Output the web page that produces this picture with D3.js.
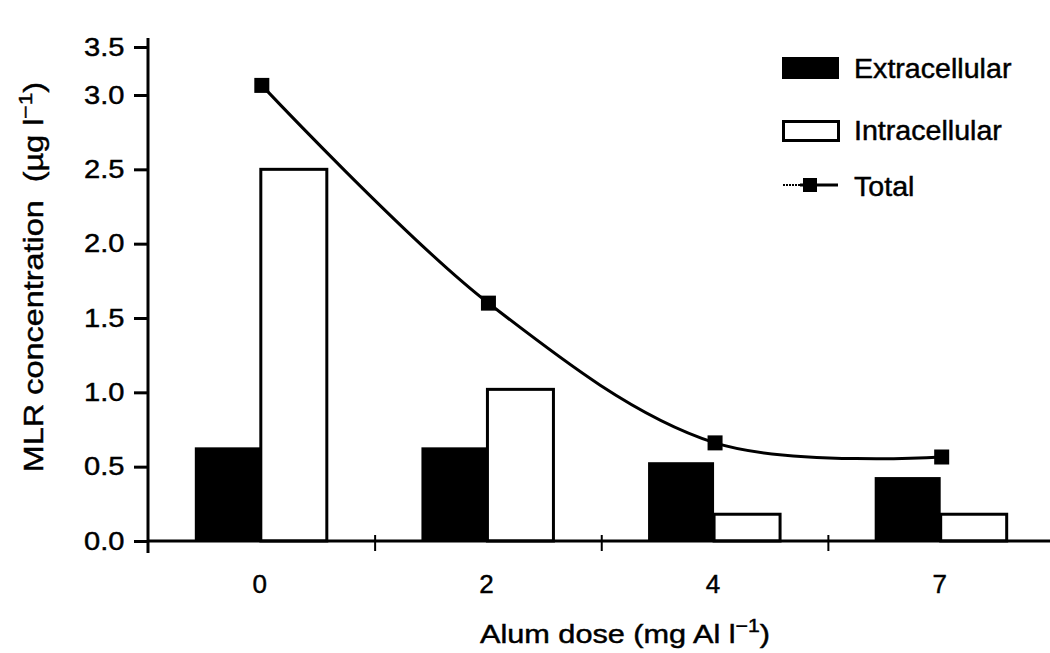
<!DOCTYPE html>
<html>
<head>
<meta charset="utf-8">
<script src="https://cdn.jsdelivr.net/npm/d3@7"></script>
<style>
  html, body { margin: 0; padding: 0; background: #fff; }
  svg { display: block; }
  text { font-family: "Liberation Sans", Arial, Helvetica, sans-serif; fill: #000; stroke: #000; stroke-width: 0.45px; }
</style>
</head>
<body>
<svg id="chart" width="1050" height="653"></svg>
<script>
// ---- data ----
const categories = ["0", "2", "4", "7"];
const extracellular = [0.63, 0.63, 0.53, 0.43];
const intracellular = [2.5, 1.02, 0.18, 0.18];
const total = [3.1, 1.6, 0.66, 0.565];
const yTicks = [0, 0.5, 1.0, 1.5, 2.0, 2.5, 3.0, 3.5];
const seriesNames = ["Extracellular", "Intracellular", "Total"];

// ---- layout ----
const svg = d3.select("#chart");
svg.append("rect").attr("width", 1050).attr("height", 653).attr("fill", "#fff");

const x0 = 148, yBase = 541;
const x = d3.scaleBand().domain(categories).range([148.5, 1055]).paddingInner(0).paddingOuter(0);
const bw = x.bandwidth();
const xs = d3.scaleBand().domain(["Extracellular", "Intracellular"]).range([bw / 2 - 67, bw / 2 + 65]);
// original figure compresses the top segment of the axis
const y = d3.scaleLinear().domain([0, 3.0, 3.5]).range([yBase, 95, 47]);

// ---- bars ----
const g = svg.append("g");
g.selectAll("rect.ext").data(extracellular).join("rect")
  .attr("class", "ext")
  .attr("x", (d, i) => x(categories[i]) + xs("Extracellular"))
  .attr("width", xs.bandwidth())
  .attr("y", d => y(d))
  .attr("height", d => yBase - y(d))
  .attr("fill", "#000");

g.selectAll("rect.int").data(intracellular).join("rect")
  .attr("class", "int")
  .attr("x", (d, i) => x(categories[i]) + xs("Intracellular"))
  .attr("width", xs.bandwidth())
  .attr("y", d => y(d))
  .attr("height", d => yBase - y(d))
  .attr("fill", "#fff")
  .attr("stroke", "#000")
  .attr("stroke-width", 3);

// ---- axes ----
// y axis
const yAxis = d3.axisLeft(y).tickValues(yTicks).tickFormat(d3.format(".1f")).tickSize(14).tickPadding(7);
const yg = svg.append("g").attr("transform", `translate(${x0},0)`).call(yAxis);
yg.select(".domain").remove();
yg.selectAll(".tick line").attr("stroke", "#000").attr("stroke-width", 3);
yg.selectAll(".tick text").attr("font-size", 26).attr("font-family", "Liberation Sans, Arial, sans-serif")
  .attr("fill", "#000").attr("transform", "scale(1.12,1)");
svg.append("line").attr("x1", x0).attr("x2", x0).attr("y1", 38).attr("y2", 553)
  .attr("stroke", "#000").attr("stroke-width", 3);

// x axis
svg.append("line").attr("x1", x0).attr("x2", 1050).attr("y1", yBase).attr("y2", yBase)
  .attr("stroke", "#000").attr("stroke-width", 3);
svg.selectAll("line.xtick").data(categories.slice(1)).join("line")
  .attr("class", "xtick")
  .attr("x1", d => x(d)).attr("x2", d => x(d))
  .attr("y1", yBase - 6).attr("y2", yBase + 10)
  .attr("stroke", "#000").attr("stroke-width", 2);
const xAxis = d3.axisBottom(x).tickSize(0).tickPadding(34);
const xg = svg.append("g").attr("transform", `translate(-2,${yBase})`).call(xAxis);
xg.select(".domain").remove();
xg.selectAll(".tick text").attr("font-size", 26).attr("font-family", "Liberation Sans, Arial, sans-serif").attr("fill", "#000");

// ---- total line ----
const cx = i => x(categories[i]) + bw / 2;
const line = d3.line().x((d, i) => cx(i)).y(d => y(d)).curve(d3.curveCatmullRom.alpha(0.5));
svg.append("path").datum(total).attr("d", line)
  .attr("fill", "none").attr("stroke", "#000").attr("stroke-width", 3);
svg.selectAll("rect.mk").data(total).join("rect")
  .attr("class", "mk")
  .attr("x", (d, i) => cx(i) - 7.5).attr("y", d => y(d) - 7.5)
  .attr("width", 15).attr("height", 15).attr("fill", "#000");

// ---- titles ----
const xt = svg.append("text").attr("transform", "translate(625,643) scale(1.18,1)")
  .attr("text-anchor", "middle").attr("font-size", 26);
xt.append("tspan").text("Alum dose (mg Al l");
xt.append("tspan").attr("dy", -11).attr("font-size", 18).text("\u22121");
xt.append("tspan").attr("dy", 11).text(")");

const yt = svg.append("text").attr("transform", "translate(43,277) rotate(-90) scale(1.2,1)")
  .attr("text-anchor", "middle").attr("font-size", 27);
yt.append("tspan").text("MLR concentration\u00a0\u00a0(\u00b5g l");
yt.append("tspan").attr("dy", -11).attr("font-size", 19).text("\u22121");
yt.append("tspan").attr("dy", 11).text(")");

// ---- legend ----
const lg = svg.append("g");
lg.append("rect").attr("x", 782).attr("y", 57).attr("width", 57).attr("height", 22).attr("fill", "#000");
lg.append("rect").attr("x", 783.5).attr("y", 121.5).attr("width", 55).attr("height", 19)
  .attr("fill", "#fff").attr("stroke", "#000").attr("stroke-width", 3);
lg.append("line").attr("x1", 783).attr("x2", 800).attr("y1", 185).attr("y2", 185)
  .attr("stroke", "#000").attr("stroke-width", 2).attr("stroke-dasharray", "2,1");
lg.append("line").attr("x1", 800).attr("x2", 838).attr("y1", 185).attr("y2", 185)
  .attr("stroke", "#000").attr("stroke-width", 3);
lg.append("rect").attr("x", 803).attr("y", 178).attr("width", 14).attr("height", 14).attr("fill", "#000");
const legendY = [78, 140, 196];
lg.selectAll("text").data(seriesNames).join("text")
  .attr("transform", (d, i) => `translate(854,${legendY[i]}) scale(1.06,1)`)
  .attr("font-size", 27).text(d => d);
</script>
</body>
</html>
